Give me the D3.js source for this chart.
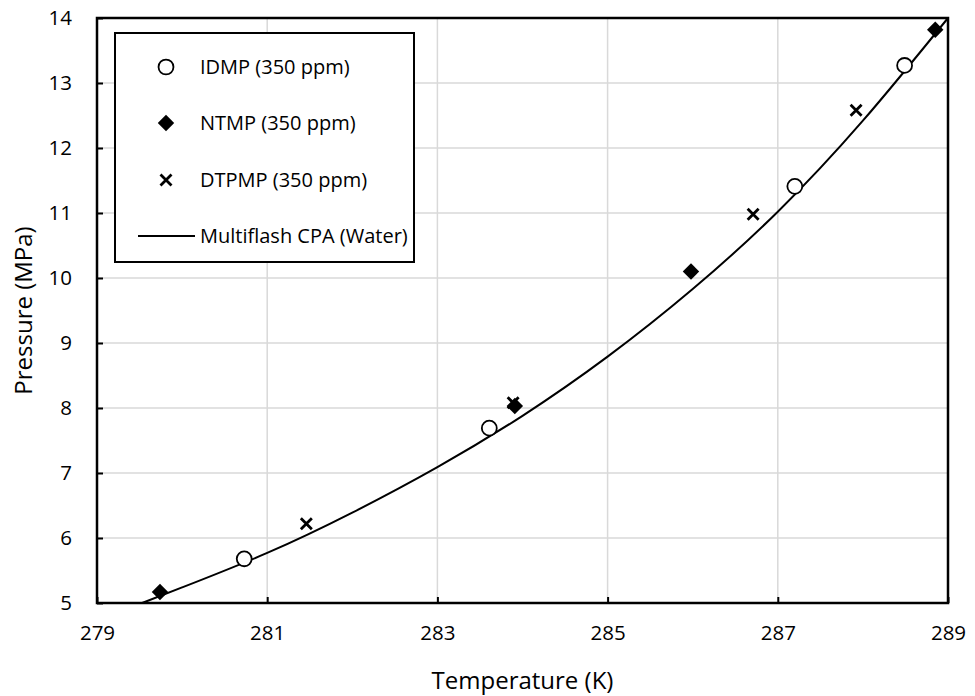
<!DOCTYPE html>
<html>
<head>
<meta charset="utf-8">
<script src="https://cdn.jsdelivr.net/npm/d3@7"></script>
<style>
  body { margin: 0; background: #fff; }
  svg { display: block; font-family: "Open Sans", "Liberation Sans", sans-serif; }
</style>
</head>
<body>
<svg id="chart" width="975" height="696"></svg>
<script>
// Hydrate equilibrium data, temperature (K) vs pressure (MPa)
const idmpT = [280.73, 283.61, 287.20, 288.49];
const idmpP = [5.68, 7.69, 11.41, 13.27];

const ntmpT = [279.74, 283.91, 285.98, 288.85];
const ntmpP = [5.17, 8.03, 10.10, 13.82];

const dtpmpT = [281.46, 283.89, 286.71, 287.92];
const dtpmpP = [6.22, 8.08, 10.98, 12.58];

// Multiflash CPA (Water) prediction curve
const cpaT = [279.53, 280, 281, 282, 283, 284, 285, 286, 287, 288, 289];
const cpaP = [5.00, 5.24, 5.77, 6.39, 7.09, 7.88, 8.79, 9.83, 11.02, 12.42, 14.00];

const xTicks = [279, 281, 283, 285, 287, 289];
const yTicks = [5, 6, 7, 8, 9, 10, 11, 12, 13, 14];

const legendLabels = ["IDMP (350 ppm)", "NTMP (350 ppm)", "DTPMP (350 ppm)", "Multiflash CPA (Water)"];

const svg = d3.select("#chart");
const margin = { left: 97, right: 27, top: 18, bottom: 93 };
const W = 975, H = 696;

const x = d3.scaleLinear().domain([279, 289]).range([margin.left, W - margin.right]);
const y = d3.scaleLinear().domain([5, 14]).range([H - margin.bottom, margin.top]);

// Gridlines
const grid = svg.append("g");
grid.selectAll("line.v").data(xTicks.slice(1, -1)).join("line")
  .attr("x1", d => x(d)).attr("x2", d => x(d))
  .attr("y1", y(5)).attr("y2", y(14))
  .attr("stroke", "#d9d9d9").attr("stroke-width", 1.5);
grid.selectAll("line.h").data(yTicks.slice(1, -1)).join("line")
  .attr("y1", d => y(d)).attr("y2", d => y(d))
  .attr("x1", x(279)).attr("x2", x(289))
  .attr("stroke", "#d9d9d9").attr("stroke-width", 1.5);

// Axes with short inward ticks
const xAxis = svg.append("g").attr("transform", `translate(0,${y(5)})`)
  .call(d3.axisBottom(x).tickValues(xTicks).tickSize(-6).tickPadding(22).tickFormat(d3.format("d")));
const yAxis = svg.append("g").attr("transform", `translate(${x(279)},0)`)
  .call(d3.axisLeft(y).tickValues(yTicks).tickSize(-6).tickPadding(25).tickFormat(d3.format("d")));
[xAxis, yAxis].forEach(a => {
  a.select(".domain").remove();
  a.selectAll(".tick line").attr("stroke", "#000").attr("stroke-width", 2);
  a.selectAll(".tick text").attr("fill", "#000").style("font-size", "20.5px")
    .style("font-family", "'Open Sans', 'Liberation Sans', sans-serif");
});

// Plot frame
svg.append("rect")
  .attr("x", x(279)).attr("y", y(14))
  .attr("width", x(289) - x(279)).attr("height", y(5) - y(14))
  .attr("fill", "none").attr("stroke", "#000").attr("stroke-width", 2.5);

// Model curve
const line = d3.line().x(d => x(d[0])).y(d => y(d[1])).curve(d3.curveNatural);
svg.append("path")
  .datum(cpaT.map((t, i) => [t, cpaP[i]]))
  .attr("d", line)
  .attr("fill", "none").attr("stroke", "#000").attr("stroke-width", 2);

// Marker drawing helpers
const circleSym = d3.symbol().type(d3.symbolCircle).size(175);
const diamondSym = d3.symbol().type(d3.symbolSquare).size(135);
const crossPath = s => `M${-s},${-s}L${s},${s}M${-s},${s}L${s},${-s}`;

function drawCircle(g, px, py) {
  g.append("path").attr("d", circleSym()).attr("transform", `translate(${px},${py})`)
    .attr("fill", "#fff").attr("stroke", "#000").attr("stroke-width", 1.8);
}
function drawDiamond(g, px, py) {
  g.append("path").attr("d", diamondSym()).attr("transform", `translate(${px},${py}) rotate(45)`)
    .attr("fill", "#000");
}
function drawCross(g, px, py) {
  g.append("path").attr("d", crossPath(5.5)).attr("transform", `translate(${px},${py})`)
    .attr("stroke", "#000").attr("stroke-width", 2.8).attr("fill", "none");
}

const marks = svg.append("g");
idmpT.forEach((t, i) => drawCircle(marks, x(t), y(idmpP[i])));
ntmpT.forEach((t, i) => drawDiamond(marks, x(t), y(ntmpP[i])));
dtpmpT.forEach((t, i) => drawCross(marks, x(t), y(dtpmpP[i])));

// Axis titles
svg.append("text").attr("x", (x(279) + x(289)) / 2).attr("y", 689)
  .attr("text-anchor", "middle").style("font-size", "24px").text("Temperature (K)");
svg.append("text").attr("transform", `translate(32,${(y(5) + y(14)) / 2}) rotate(-90)`)
  .attr("text-anchor", "middle").style("font-size", "24px").text("Pressure (MPa)");

// Legend
const leg = svg.append("g");
leg.append("rect").attr("x", 115).attr("y", 33).attr("width", 299).attr("height", 229)
  .attr("fill", "#fff").attr("stroke", "#000").attr("stroke-width", 2);
const rowY = [67, 123, 180, 236];
drawCircle(leg, 166, rowY[0]);
drawDiamond(leg, 166, rowY[1]);
drawCross(leg, 166, rowY[2]);
leg.append("line").attr("x1", 138).attr("x2", 195).attr("y1", rowY[3]).attr("y2", rowY[3])
  .attr("stroke", "#000").attr("stroke-width", 2);
leg.selectAll("text.lab").data(legendLabels).join("text")
  .attr("x", 200).attr("y", (d, i) => rowY[i]).attr("dy", "0.35em")
  .style("font-size", "20px").text(d => d);
</script>
</body>
</html>
